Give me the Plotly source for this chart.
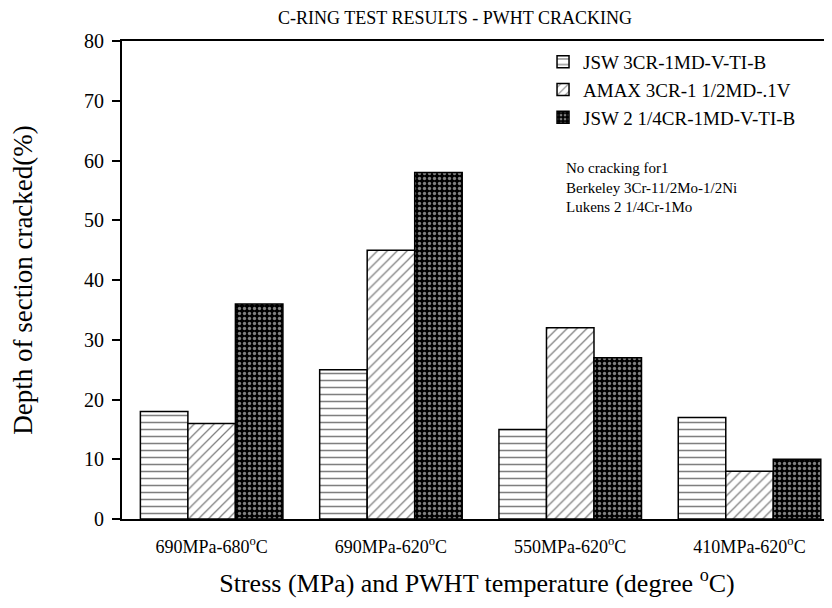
import plotly.graph_objects as go

categories = ["690MPa-680<sup>o</sup>C", "690MPa-620<sup>o</sup>C", "550MPa-620<sup>o</sup>C", "410MPa-620<sup>o</sup>C"]
series_names = ["JSW 3CR-1MD-V-TI-B", "AMAX 3CR-1 1/2MD-.1V", "JSW 2 1/4CR-1MD-V-TI-B"]
jsw_3cr = [18, 25, 15, 17]
amax_3cr = [16, 45, 32, 8]
jsw_214cr = [36, 58, 27, 10]
y_ticks = [0, 10, 20, 30, 40, 50, 60, 70, 80]

FONT = "Liberation Serif, Times New Roman, serif"

fig = go.Figure()
patterns = [
    dict(shape="-", size=7, solidity=0.22, fgcolor="black", bgcolor="white", fillmode="overlay"),
    dict(shape="/", size=7, solidity=0.18, fgcolor="black", bgcolor="white", fillmode="overlay"),
    dict(shape=".", size=5, solidity=0.35, fgcolor="white", bgcolor="black", fillmode="overlay"),
]
for name, vals, pat in zip(series_names, [jsw_3cr, amax_3cr, jsw_214cr], patterns):
    fig.add_trace(go.Bar(
        x=categories, y=vals, name=name,
        marker=dict(color="white", line=dict(color="black", width=1.5), pattern=pat),
    ))

fig.update_layout(
    width=824, height=600,
    paper_bgcolor="white", plot_bgcolor="white",
    margin=dict(l=114, r=0, t=33, b=89, autoexpand=False),
    barmode="group", bargap=0.205, bargroupgap=0,
    font=dict(family=FONT, color="black"),
    title=dict(text="C-RING TEST RESULTS - PWHT CRACKING", x=0.5425, xanchor="center",
               y=0.995, yanchor="top", pad=dict(t=0, b=0), font=dict(size=18, family=FONT)),
    legend=dict(x=0.593, y=0.996, xanchor="left", yanchor="top",
                font=dict(size=19, family=FONT), bgcolor="rgba(0,0,0,0)",
                tracegroupgap=0, itemwidth=30),
    showlegend=True,
)
fig.update_xaxes(
    range=[-0.5, 3.46], showline=True, linecolor="black", linewidth=1.8, mirror=True,
    ticks="", tickfont=dict(size=18, family=FONT), ticklabelstandoff=10, automargin=False,
    title=dict(text="Stress (MPa) and PWHT temperature (degree <sup>o</sup>C)",
               font=dict(size=26, family=FONT), standoff=18),
    showgrid=False,
)
fig.update_yaxes(
    range=[0, 80], tickvals=y_ticks, showline=True, linecolor="black", linewidth=1.8,
    ticks="outside", ticklen=8, tickwidth=1.5, tickcolor="black",
    tickfont=dict(size=20, family=FONT), ticklabelstandoff=4, automargin=False,
    title=dict(text="Depth of section cracked(%)", font=dict(size=27, family=FONT), standoff=48),
    showgrid=False, zeroline=False,
)
fig.add_annotation(
    x=0.6225, y=0.755, xref="paper", yref="paper", xanchor="left", yanchor="top",
    text="No cracking for1<br>Berkeley 3Cr-11/2Mo-1/2Ni<br>Lukens 2 1/4Cr-1Mo",
    showarrow=False, align="left", font=dict(size=15, family=FONT),
)
fig.write_html("out.html")
